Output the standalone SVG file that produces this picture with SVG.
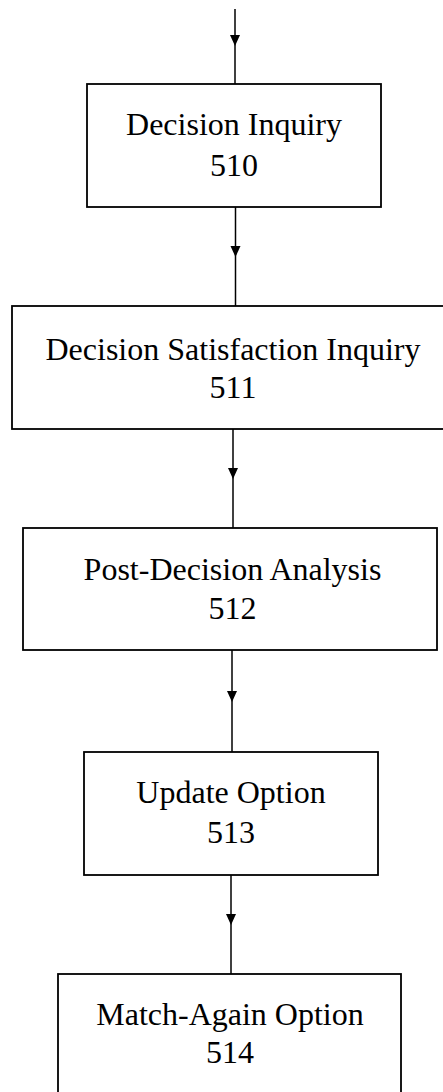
<svg xmlns="http://www.w3.org/2000/svg" width="443" height="1092" viewBox="0 0 443 1092">
<defs>
<path id="ah" d="M-5,0 L5,0 L0,11 Z" fill="#000"/>
<style>
.box{fill:#fff;stroke:#000;stroke-width:1.8}
.lbl{font-family:"Liberation Serif","Times New Roman",serif;font-size:32px;fill:#000;text-anchor:middle}
.ln{stroke:#000;stroke-width:1.5;fill:none}
</style>
</defs>
<rect width="443" height="1092" fill="#fff"/>
<g id="connectors">
<line class="ln" x1="235" y1="9" x2="235" y2="84"/>
<use href="#ah" x="235" y="35"/>
<line class="ln" x1="235.5" y1="207" x2="235.5" y2="306"/>
<use href="#ah" x="235.5" y="246"/>
<line class="ln" x1="233" y1="429" x2="233" y2="528"/>
<use href="#ah" x="233" y="468"/>
<line class="ln" x1="232" y1="650" x2="232" y2="752"/>
<use href="#ah" x="232" y="691"/>
<line class="ln" x1="231" y1="875" x2="231" y2="974"/>
<use href="#ah" x="231" y="914"/>
</g>
<g id="n510">
<rect class="box" x="87" y="84" width="294" height="123"/>
<text class="lbl" x="234" y="135">Decision Inquiry</text>
<text class="lbl" x="234" y="176">510</text>
</g>
<g id="n511">
<rect class="box" x="12" y="306" width="440" height="123"/>
<text class="lbl" x="233" y="360">Decision Satisfaction Inquiry</text>
<text class="lbl" x="233" y="398">511</text>
</g>
<g id="n512">
<rect class="box" x="23" y="528" width="414" height="122"/>
<text class="lbl" x="232.5" y="580">Post-Decision Analysis</text>
<text class="lbl" x="232.5" y="619">512</text>
</g>
<g id="n513">
<rect class="box" x="84" y="752" width="294" height="123"/>
<text class="lbl" x="231" y="803">Update Option</text>
<text class="lbl" x="231" y="843">513</text>
</g>
<g id="n514">
<rect class="box" x="58" y="974" width="343" height="130"/>
<text class="lbl" x="230" y="1025">Match-Again Option</text>
<text class="lbl" x="230" y="1063">514</text>
</g>
</svg>
